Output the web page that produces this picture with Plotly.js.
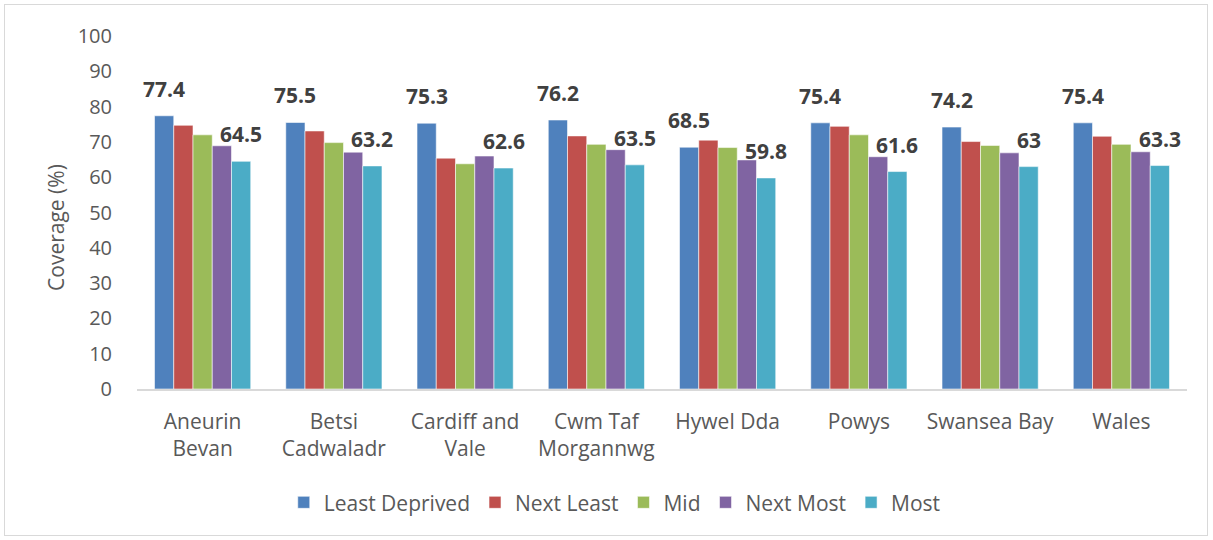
<!DOCTYPE html>
<html>
<head>
<meta charset="utf-8">
<script src="https://cdn.plot.ly/plotly-3.0.1.min.js"></script>
<style>
  html, body { margin: 0; padding: 0; background: #fff; }
  #wrap { position: relative; width: 1213px; height: 540px; }
  #chart { width: 1213px; height: 540px; }
  #frame { position: absolute; left: 4px; top: 4px; width: 1204px; height: 532px;
           border: 1px solid #d9d9d9; pointer-events: none; box-sizing: border-box; }
</style>
</head>
<body>
<div id="wrap"><div id="chart"></div><div id="frame"></div></div>
<script>
const categories = ["Aneurin<br>Bevan", "Betsi<br>Cadwaladr", "Cardiff and<br>Vale", "Cwm Taf<br>Morgannwg",
                    "Hywel Dda", "Powys", "Swansea Bay", "Wales"];
const seriesNames = ["Least Deprived", "Next Least", "Mid", "Next Most", "Most"];
const leastDeprived = [77.4, 75.5, 75.3, 76.2, 68.5, 75.4, 74.2, 75.4];
const nextLeast     = [74.7, 73.1, 65.4, 71.7, 70.5, 74.4, 70.1, 71.6];
const mid           = [72.0, 69.8, 63.8, 69.3, 68.4, 72.0, 69.0, 69.3];
const nextMost      = [68.9, 67.1, 66.0, 67.8, 64.9, 65.8, 66.9, 67.2];
const most          = [64.5, 63.2, 62.6, 63.5, 59.8, 61.6, 63.0, 63.3];
const colors = ["#4F81BD", "#C0504D", "#9BBB59", "#8064A2", "#4BACC6"];
const yTicks = [0, 10, 20, 30, 40, 50, 60, 70, 80, 90, 100];

const allSeries = [leastDeprived, nextLeast, mid, nextMost, most];
const traces = allSeries.map((vals, i) => ({
  type: "bar",
  name: seriesNames[i],
  x: categories,
  y: vals,
  marker: { color: colors[i], line: { color: "rgba(255,255,255,0.7)", width: 0.8 } },
  hoverinfo: "x+y+name"
}));

// geometry for label offsets
const margin = { l: 137, r: 26, t: 36, b: 151 };
const plotW = 1213 - margin.l - margin.r;
const bargap = 0.267;
const catW = plotW / categories.length;
const barW = catW * (1 - bargap) / seriesNames.length;

const annotations = [];
// labels on Least Deprived (index 0) and Most (index 4)
[[0, leastDeprived], [4, most]].forEach(([idx, vals]) => {
  const shift = (idx - 2) * barW;
  vals.forEach((v, j) => {
    annotations.push({
      x: categories[j], y: v, xref: "x", yref: "y",
      text: String(v), showarrow: false,
      xanchor: "center", yanchor: "bottom",
      xshift: shift, yshift: 11,
      font: { family: "Open Sans, sans-serif", size: 21, color: "#404040", weight: "bold" }
    });
  });
});
annotations.push({
  xref: "paper", yref: "paper", x: -0.077, y: 0.4566,
  text: "Coverage (%)", textangle: -90, showarrow: false,
  xanchor: "center", yanchor: "middle",
  font: { family: "Open Sans, sans-serif", size: 21, color: "#595959" }
});

const layout = {
  width: 1213, height: 540,
  margin: margin,
  paper_bgcolor: "#ffffff", plot_bgcolor: "#ffffff",
  barmode: "group", bargap: bargap, bargroupgap: 0,
  font: { family: "Open Sans, sans-serif", size: 20, color: "#595959" },
  xaxis: {
    type: "category", showgrid: false, zeroline: false,
    showline: true, linecolor: "#d9d9d9", linewidth: 1.5,
    ticks: "", tickfont: { size: 21, color: "#595959" }, ticklabelstandoff: 13, automargin: false
  },
  yaxis: {
    range: [0, 100], tickvals: yTicks, ticktext: yTicks.map(String),
    showgrid: false, zeroline: false, showline: false, ticks: "",
    tickfont: { size: 20, color: "#595959" }, ticklabelstandoff: 24, automargin: false
  },
  legend: {
    orientation: "h", x: 0.455, xanchor: "center", y: -0.322, yanchor: "middle",
    font: { size: 21, color: "#595959" }, itemwidth: 30, traceorder: "normal"
  },
  annotations: annotations,
  showlegend: true
};

Plotly.newPlot("chart", traces, layout, { displayModeBar: false, staticPlot: true });
</script>
</body>
</html>
